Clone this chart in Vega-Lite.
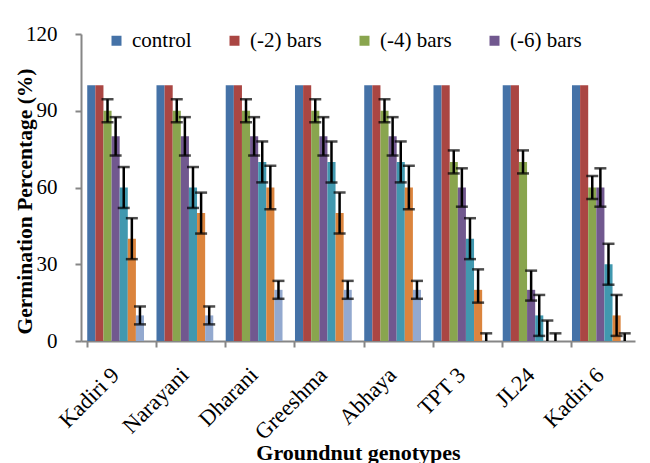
{
  "$schema": "https://vega.github.io/schema/vega-lite/v6.json",
  "width": 554,
  "height": 307,
  "autosize": {"type": "none"},
  "padding": {"left": 81, "top": 34, "right": 15, "bottom": 122},
  "background": "white",
  "config": {
    "font": "Liberation Serif",
    "view": {"stroke": null},
    "axis": {"grid": false, "domainColor": "#868686", "tickColor": "#868686", "domainWidth": 2, "tickWidth": 2, "tickSize": 6, "labelColor": "black", "titleColor": "black"}
  },
  "data": {
    "values": [
      {"g": "Kadiri 9", "s": "control", "v": 100},
      {"g": "Kadiri 9", "s": "(-2) bars", "v": 100},
      {"g": "Kadiri 9", "s": "(-4) bars", "v": 90, "lo": 85.5, "hi": 94.5},
      {"g": "Kadiri 9", "s": "(-6) bars", "v": 80, "lo": 72.5, "hi": 87.5},
      {"g": "Kadiri 9", "s": "(-8) bars", "v": 60, "lo": 52, "hi": 68},
      {"g": "Kadiri 9", "s": "(-10) bars", "v": 40, "lo": 32, "hi": 48},
      {"g": "Kadiri 9", "s": "(-12) bars", "v": 10, "lo": 6.5, "hi": 13.5},
      {"g": "Narayani", "s": "control", "v": 100},
      {"g": "Narayani", "s": "(-2) bars", "v": 100},
      {"g": "Narayani", "s": "(-4) bars", "v": 90, "lo": 85.5, "hi": 94.5},
      {"g": "Narayani", "s": "(-6) bars", "v": 80, "lo": 72.5, "hi": 87.5},
      {"g": "Narayani", "s": "(-8) bars", "v": 60, "lo": 52, "hi": 68},
      {"g": "Narayani", "s": "(-10) bars", "v": 50, "lo": 42, "hi": 58},
      {"g": "Narayani", "s": "(-12) bars", "v": 10, "lo": 6.5, "hi": 13.5},
      {"g": "Dharani", "s": "control", "v": 100},
      {"g": "Dharani", "s": "(-2) bars", "v": 100},
      {"g": "Dharani", "s": "(-4) bars", "v": 90, "lo": 85.5, "hi": 94.5},
      {"g": "Dharani", "s": "(-6) bars", "v": 80, "lo": 72.5, "hi": 87.5},
      {"g": "Dharani", "s": "(-8) bars", "v": 70, "lo": 62, "hi": 78},
      {"g": "Dharani", "s": "(-10) bars", "v": 60, "lo": 51.5, "hi": 68.5},
      {"g": "Dharani", "s": "(-12) bars", "v": 20, "lo": 16.5, "hi": 23.5},
      {"g": "Greeshma", "s": "control", "v": 100},
      {"g": "Greeshma", "s": "(-2) bars", "v": 100},
      {"g": "Greeshma", "s": "(-4) bars", "v": 90, "lo": 85.5, "hi": 94.5},
      {"g": "Greeshma", "s": "(-6) bars", "v": 80, "lo": 72.5, "hi": 87.5},
      {"g": "Greeshma", "s": "(-8) bars", "v": 70, "lo": 62, "hi": 78},
      {"g": "Greeshma", "s": "(-10) bars", "v": 50, "lo": 42, "hi": 58},
      {"g": "Greeshma", "s": "(-12) bars", "v": 20, "lo": 16.5, "hi": 23.5},
      {"g": "Abhaya", "s": "control", "v": 100},
      {"g": "Abhaya", "s": "(-2) bars", "v": 100},
      {"g": "Abhaya", "s": "(-4) bars", "v": 90, "lo": 85.5, "hi": 94.5},
      {"g": "Abhaya", "s": "(-6) bars", "v": 80, "lo": 72.5, "hi": 87.5},
      {"g": "Abhaya", "s": "(-8) bars", "v": 70, "lo": 62, "hi": 78},
      {"g": "Abhaya", "s": "(-10) bars", "v": 60, "lo": 51.5, "hi": 68.5},
      {"g": "Abhaya", "s": "(-12) bars", "v": 20, "lo": 16.5, "hi": 23.5},
      {"g": "TPT 3", "s": "control", "v": 100},
      {"g": "TPT 3", "s": "(-2) bars", "v": 100},
      {"g": "TPT 3", "s": "(-4) bars", "v": 70, "lo": 65.5, "hi": 74.5},
      {"g": "TPT 3", "s": "(-6) bars", "v": 60, "lo": 52.5, "hi": 67.5},
      {"g": "TPT 3", "s": "(-8) bars", "v": 40, "lo": 32, "hi": 48},
      {"g": "TPT 3", "s": "(-10) bars", "v": 20, "lo": 15, "hi": 28},
      {"g": "TPT 3", "s": "(-12) bars", "v": 0, "lo": -3, "hi": 3},
      {"g": "JL24", "s": "control", "v": 100},
      {"g": "JL24", "s": "(-2) bars", "v": 100},
      {"g": "JL24", "s": "(-4) bars", "v": 70, "lo": 65.5, "hi": 74.5},
      {"g": "JL24", "s": "(-6) bars", "v": 20, "lo": 15.8, "hi": 27.5},
      {"g": "JL24", "s": "(-8) bars", "v": 10, "lo": 2, "hi": 18},
      {"g": "JL24", "s": "(-10) bars", "v": 0, "lo": -8, "hi": 8},
      {"g": "JL24", "s": "(-12) bars", "v": 0, "lo": -3, "hi": 3},
      {"g": "Kadiri 6", "s": "control", "v": 100},
      {"g": "Kadiri 6", "s": "(-2) bars", "v": 100},
      {"g": "Kadiri 6", "s": "(-4) bars", "v": 60, "lo": 55.5, "hi": 64.5},
      {"g": "Kadiri 6", "s": "(-6) bars", "v": 60, "lo": 52.5, "hi": 67.5},
      {"g": "Kadiri 6", "s": "(-8) bars", "v": 30, "lo": 22, "hi": 38},
      {"g": "Kadiri 6", "s": "(-10) bars", "v": 10, "lo": 2, "hi": 18},
      {"g": "Kadiri 6", "s": "(-12) bars", "v": 0, "lo": -3, "hi": 3}
    ]
  },
  "encoding": {
    "x": {
      "field": "g", "type": "nominal", "sort": null,
      "scale": {"paddingInner": 0.18, "paddingOuter": 0.09},
      "axis": {"title": "Groundnut genotypes", "titleFont": "Liberation Serif", "titleFontSize": 22, "titleFontWeight": "bold", "titleBaseline": "alphabetic", "titleY": 118, "labelAngle": -45, "labelAlign": "right", "labelBaseline": "middle", "labelFontSize": 22.5, "labelFont": "Liberation Serif", "labelPadding": 24, "bandPosition": 0, "labelFlush": false}
    },
    "xOffset": {
      "field": "s", "type": "nominal",
      "scale": {"domain": ["control", "(-2) bars", "(-4) bars", "(-6) bars", "(-8) bars", "(-10) bars", "(-12) bars"], "paddingInner": 0, "paddingOuter": 0}
    },
    "y": {
      "field": "v", "type": "quantitative",
      "scale": {"domain": [0, 120]},
      "axis": {"title": "Germination Percentage (%)", "titleFont": "Liberation Serif", "titleFontSize": 21.5, "titleFontWeight": "bold", "titleAngle": 270, "titleAlign": "center", "titleBaseline": "alphabetic", "titleX": -50, "titleY": 167, "values": [0, 30, 60, 90, 120], "labelFontSize": 21, "labelFont": "Liberation Serif", "labelPadding": 18}
    }
  },
  "layer": [
    {
      "mark": {"type": "bar"},
      "encoding": {
        "color": {
          "field": "s", "type": "nominal",
          "scale": {
            "domain": ["control", "(-2) bars", "(-4) bars", "(-6) bars", "(-8) bars", "(-10) bars", "(-12) bars"],
            "range": ["#4572A7", "#AA4643", "#89A54E", "#71588F", "#4198AF", "#DB843D", "#93A9CF"]
          },
          "legend": {
            "values": ["control", "(-2) bars", "(-4) bars", "(-6) bars"],
            "orient": "none", "legendX": 25, "legendY": -4, "direction": "horizontal",
            "title": null, "padding": 0, "columnPadding": 32,
            "symbolType": "square", "symbolSize": 100, "symbolStrokeWidth": 0,
            "labelFontSize": 21, "labelFont": "Liberation Serif", "labelOffset": 5, "labelColor": "black"
          }
        }
      }
    },
    {
      "transform": [{"filter": "isValid(datum.lo)"}],
      "mark": {"type": "rule", "color": "black", "strokeWidth": 2.5, "clip": true},
      "encoding": {
        "y": {"field": "lo", "type": "quantitative"},
        "y2": {"field": "hi"}
      }
    },
    {
      "transform": [{"filter": "isValid(datum.lo)"}],
      "mark": {"type": "tick", "color": "black", "size": 12, "thickness": 2.5, "orient": "horizontal", "clip": true},
      "encoding": {
        "y": {"field": "hi", "type": "quantitative"}
      }
    },
    {
      "transform": [{"filter": "isValid(datum.lo)"}],
      "mark": {"type": "tick", "color": "black", "size": 12, "thickness": 2.5, "orient": "horizontal", "clip": true},
      "encoding": {
        "y": {"field": "lo", "type": "quantitative"}
      }
    }
  ]
}
